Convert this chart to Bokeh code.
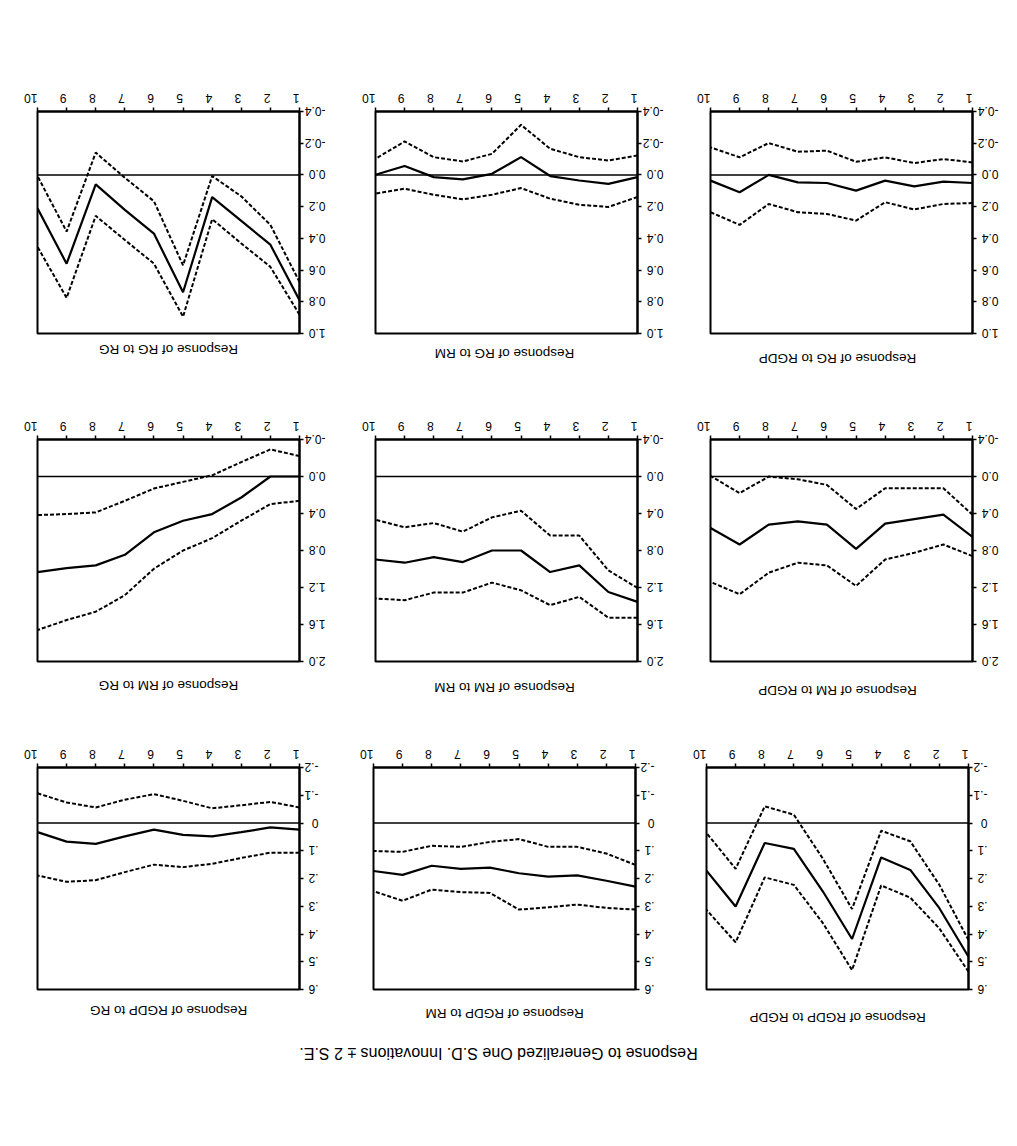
import math
from bokeh.plotting import figure
from bokeh.layouts import column, row, Spacer
from bokeh.models import (Range1d, FixedTicker, PrintfTickFormatter,
                          CustomJSTickFormatter, Span, Label)
from bokeh.embed import file_html
from bokeh.resources import INLINE

FONT = "Liberation Sans"

periods = [1, 2, 3, 4, 5, 6, 7, 8, 9, 10]

# Row 1 -- responses of RG
rg_rg_lower = [0.675, 0.315, 0.135, 0.007, 0.57, 0.166, 0.018, -0.141, 0.357, 0.007]
rg_rg_mid = [0.79, 0.44, 0.29, 0.14, 0.74, 0.37, 0.22, 0.06, 0.56, 0.21]
rg_rg_upper = [0.881, 0.58, 0.432, 0.279, 0.894, 0.559, 0.41, 0.258, 0.775, 0.453]

rg_rm_lower = [-0.123, -0.091, -0.112, -0.165, -0.316, -0.133, -0.085, -0.112, -0.211, -0.102]
rg_rm_mid = [0.014, 0.056, 0.035, 0.007, -0.112, -0.007, 0.028, 0.014, -0.056, -0.001]
rg_rm_upper = [0.139, 0.202, 0.188, 0.15, 0.083, 0.125, 0.154, 0.125, 0.087, 0.118]

rg_rgdp_lower = [-0.079, -0.1, -0.075, -0.111, -0.083, -0.153, -0.146, -0.201, -0.111, -0.174]
rg_rgdp_mid = [0.051, 0.042, 0.072, 0.036, 0.099, 0.051, 0.047, 0.0, 0.109, 0.036]
rg_rgdp_upper = [0.177, 0.183, 0.218, 0.172, 0.288, 0.246, 0.235, 0.183, 0.315, 0.235]

# Row 2 -- responses of RM
rm_rg_lower = [-0.221, -0.293, -0.156, -0.013, 0.058, 0.13, 0.263, 0.388, 0.406, 0.417]
rm_rg_mid = [0.0, 0.0, 0.227, 0.406, 0.478, 0.603, 0.846, 0.961, 0.99, 1.033]
rm_rg_upper = [0.263, 0.298, 0.477, 0.667, 0.8, 0.997, 1.283, 1.462, 1.552, 1.66]

rm_rm_lower = [1.205, 1.015, 0.639, 0.639, 0.37, 0.442, 0.596, 0.503, 0.549, 0.467]
rm_rm_mid = [1.355, 1.248, 0.961, 1.033, 0.8, 0.8, 0.925, 0.871, 0.932, 0.897]
rm_rm_upper = [1.527, 1.527, 1.301, 1.391, 1.23, 1.147, 1.255, 1.255, 1.337, 1.319]

rm_rgdp_lower = [0.413, 0.127, 0.127, 0.127, 0.352, 0.091, 0.03, 0.001, 0.18, -0.006]
rm_rgdp_mid = [0.653, 0.413, 0.46, 0.51, 0.782, 0.52, 0.485, 0.52, 0.735, 0.556]
rm_rgdp_upper = [0.861, 0.735, 0.825, 0.897, 1.183, 0.961, 0.932, 1.04, 1.273, 1.14]

# Row 3 -- responses of RGDP
rgdp_rg_lower = [-0.056, -0.076, -0.064, -0.053, -0.08, -0.104, -0.084, -0.056, -0.074, -0.107]
rgdp_rg_mid = [0.024, 0.016, 0.033, 0.048, 0.043, 0.024, 0.048, 0.075, 0.067, 0.033]
rgdp_rg_upper = [0.107, 0.107, 0.126, 0.147, 0.159, 0.15, 0.177, 0.206, 0.212, 0.189]

rgdp_rm_lower = [0.151, 0.11, 0.086, 0.086, 0.058, 0.068, 0.086, 0.082, 0.104, 0.101]
rgdp_rm_mid = [0.229, 0.208, 0.189, 0.193, 0.181, 0.161, 0.165, 0.154, 0.187, 0.173]
rgdp_rm_upper = [0.312, 0.306, 0.294, 0.304, 0.312, 0.252, 0.249, 0.24, 0.28, 0.246]

rgdp_rgdp_lower = [0.422, 0.223, 0.066, 0.028, 0.31, 0.129, -0.03, -0.06, 0.165, 0.036]
rgdp_rgdp_mid = [0.482, 0.307, 0.169, 0.124, 0.418, 0.247, 0.093, 0.072, 0.301, 0.172]
rgdp_rgdp_upper = [0.536, 0.38, 0.269, 0.225, 0.53, 0.361, 0.223, 0.196, 0.43, 0.313]

# axis ticks
x_ticks = [1, 2, 3, 4, 5, 6, 7, 8, 9, 10]
row1_yticks = [-0.4, -0.2, 0.0, 0.2, 0.4, 0.6, 0.8, 1.0]
row2_yticks = [-0.4, 0.0, 0.4, 0.8, 1.2, 1.6, 2.0]
row3_yticks = [-0.2, -0.1, 0.0, 0.1, 0.2, 0.3, 0.4, 0.5, 0.6]

row1_titles = ["Response of RG to RG", "Response of RG to RM", "Response of RG to RGDP"]
row2_titles = ["Response of RM to RG", "Response of RM to RM", "Response of RM to RGDP"]
row3_titles = ["Response of RGDP to RG", "Response of RGDP to RM", "Response of RGDP to RGDP"]
main_title = "Response to Generalized One S.D. Innovations \u00b1 2 S.E."

FRAME_W, FRAME_H = 262, 222
RIGHT_B = 48
BOTTOM_B = 8
COL_FRAME_LEFT = [37, 373, 706]
PAGE_W = COL_FRAME_LEFT[2] + FRAME_W + RIGHT_B
STRIP_H = 76 - BOTTOM_B


def make_panel(lower, mid, upper, yticks, left_border, short_fmt=False):
    p = figure(frame_width=FRAME_W, frame_height=FRAME_H,
               min_border_left=left_border, min_border_right=RIGHT_B,
               min_border_top=30, min_border_bottom=BOTTOM_B,
               x_range=Range1d(10, 1), y_range=Range1d(yticks[-1], yticks[0]),
               x_axis_location="above", y_axis_location="right",
               output_backend="svg", toolbar_location=None, tools="")
    p.background_fill_color = "white"
    p.border_fill_color = "white"
    p.outline_line_color = "black"
    p.outline_line_width = 2
    p.xgrid.visible = False
    p.ygrid.visible = False

    p.xaxis.ticker = FixedTicker(ticks=x_ticks)
    p.yaxis.ticker = FixedTicker(ticks=yticks)
    if short_fmt:
        p.yaxis.formatter = CustomJSTickFormatter(code="""
            if (Math.abs(tick) < 1e-9) { return "0"; }
            return tick.toFixed(1).replace("0.", ".");
        """)
        label_w = 14   # widest label "-.2" at 12px
    else:
        p.yaxis.formatter = PrintfTickFormatter(format="%.1f")
        label_w = 21   # widest label "-0.4" at 12px
    for ax in (p.xaxis, p.yaxis):
        ax.axis_line_width = 2
        ax.axis_line_color = "black"
        ax.major_tick_line_width = 1.5
        ax.major_tick_in = 0
        ax.major_tick_out = 4
        ax.minor_tick_line_color = None
        ax.major_label_text_font = FONT
        ax.major_label_text_font_size = "12px"
        ax.major_label_text_color = "black"
        ax.major_label_orientation = math.pi
    p.xaxis.major_label_standoff = 9
    # upside-down labels extend back toward the axis, so push the anchor out
    p.yaxis.major_label_standoff = 1 + label_w

    p.add_layout(Span(location=0, dimension="width", line_color="black",
                      line_width=1.5))
    p.line(periods, lower, line_color="black", line_width=2, line_dash="4 2")
    p.line(periods, mid, line_color="black", line_width=2.2)
    p.line(periods, upper, line_color="black", line_width=2, line_dash="4 2")
    return p


def caption_strip(titles, offsets, extra=None):
    c = figure(frame_width=PAGE_W, frame_height=STRIP_H, min_border=0,
               x_range=Range1d(0, PAGE_W), y_range=Range1d(STRIP_H, 0),
               x_axis_location=None, y_axis_location=None,
               output_backend="svg", toolbar_location=None, tools="")
    c.outline_line_color = None
    c.xgrid.visible = False
    c.ygrid.visible = False
    c.background_fill_color = "white"
    c.border_fill_color = "white"
    for i, t in enumerate(titles):
        c.add_layout(Label(x=COL_FRAME_LEFT[i] + FRAME_W / 2, y=offsets[i] - BOTTOM_B,
                           text=t, angle=math.pi, text_align="center",
                           text_baseline="middle", text_font=FONT,
                           text_font_size="13.5px", text_color="black"))
    if extra is not None:
        c.add_layout(Label(x=498, y=64 - BOTTOM_B, text=extra, angle=math.pi,
                           text_align="center", text_baseline="middle",
                           text_font=FONT, text_font_size="16px", text_color="black"))
    return c


def panel_row(data, yticks, short_fmt=False):
    figs = []
    start = 0
    for i, (lo, md, up) in enumerate(data):
        lb = COL_FRAME_LEFT[i] - start
        figs.append(make_panel(lo, md, up, yticks, lb, short_fmt))
        start = COL_FRAME_LEFT[i] + FRAME_W + RIGHT_B
    return row(*figs)


row1 = panel_row([(rg_rg_lower, rg_rg_mid, rg_rg_upper),
                  (rg_rm_lower, rg_rm_mid, rg_rm_upper),
                  (rg_rgdp_lower, rg_rgdp_mid, rg_rgdp_upper)], row1_yticks)
row2 = panel_row([(rm_rg_lower, rm_rg_mid, rm_rg_upper),
                  (rm_rm_lower, rm_rm_mid, rm_rm_upper),
                  (rm_rgdp_lower, rm_rgdp_mid, rm_rgdp_upper)], row2_yticks)
row3 = panel_row([(rgdp_rg_lower, rgdp_rg_mid, rgdp_rg_upper),
                  (rgdp_rm_lower, rgdp_rm_mid, rgdp_rm_upper),
                  (rgdp_rgdp_lower, rgdp_rgdp_mid, rgdp_rgdp_upper)], row3_yticks, True)

layout = column(
    Spacer(height=81),
    row1,
    caption_strip(row1_titles, [16, 20, 25]),
    row2,
    caption_strip(row2_titles, [24, 26, 29]),
    row3,
    caption_strip(row3_titles, [21, 24, 28], extra=main_title),
)

open("out.html", "w").write(file_html(layout, INLINE))
